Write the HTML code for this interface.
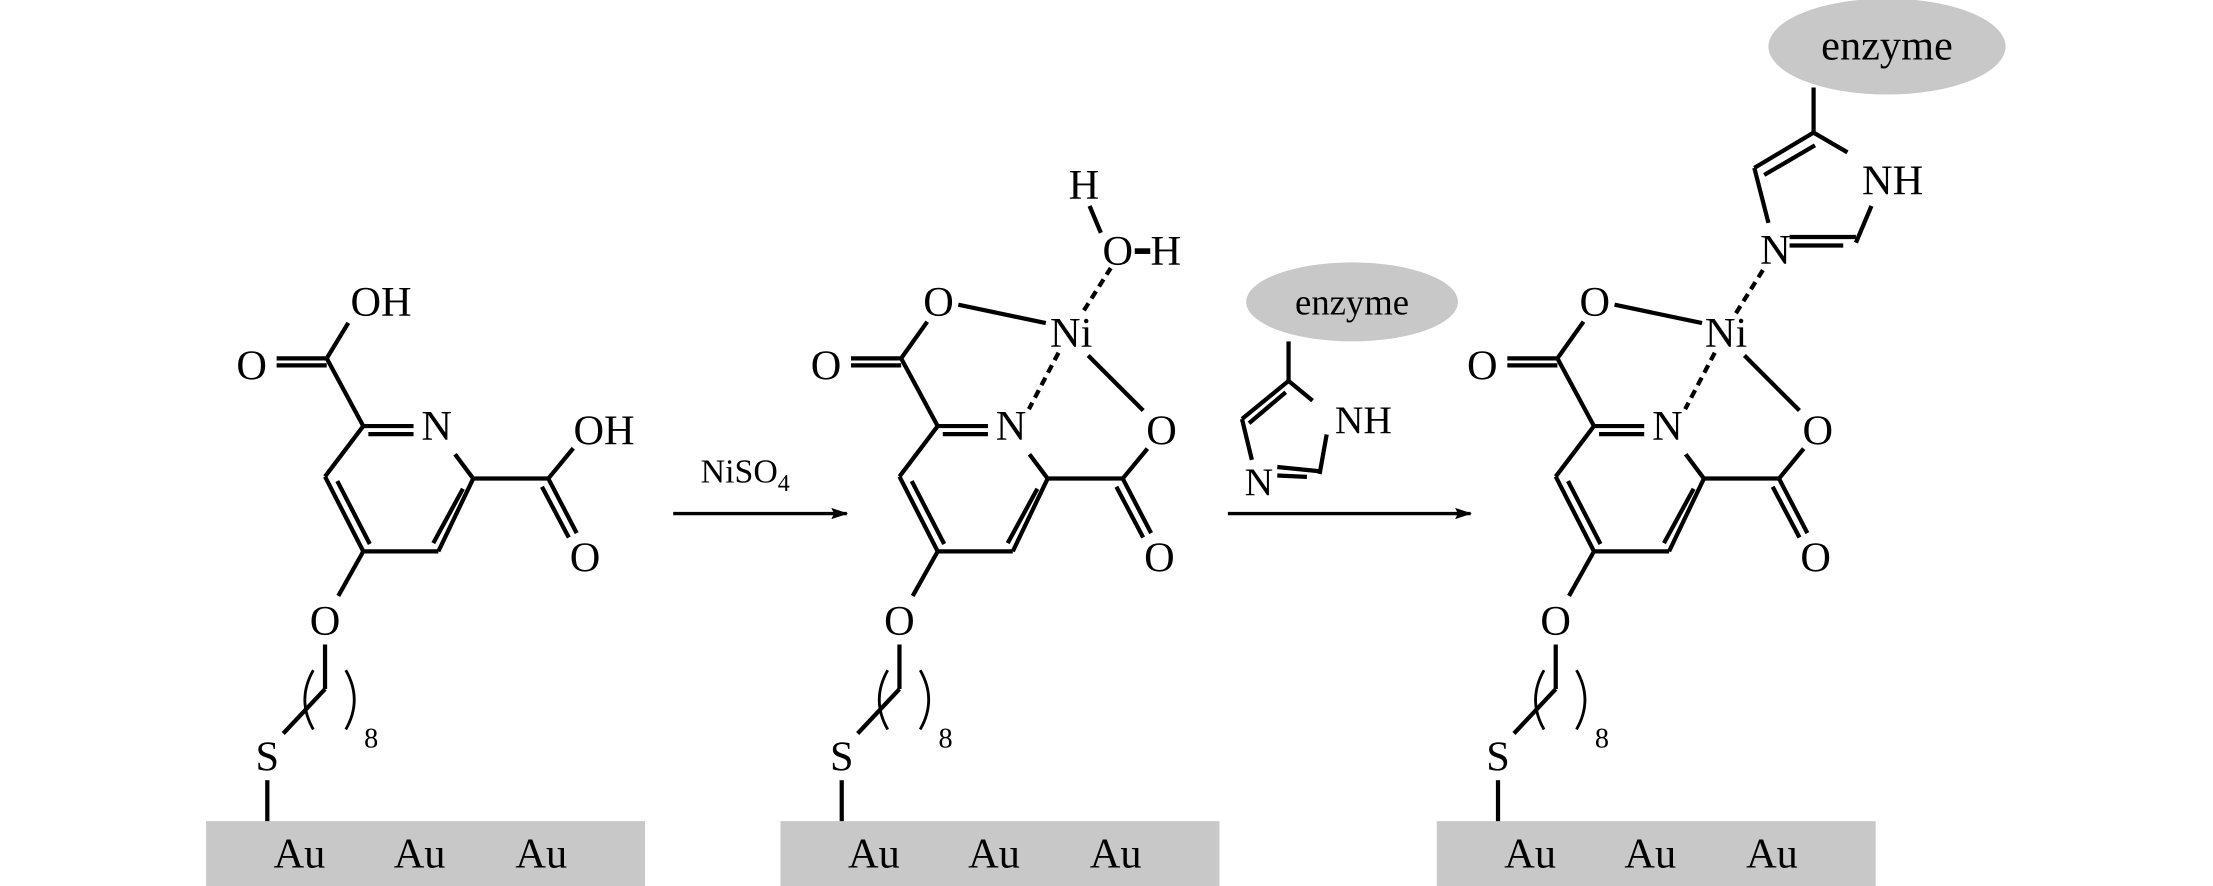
<!DOCTYPE html>
<html><head><meta charset="utf-8"><style>
html,body{margin:0;padding:0;background:#fff;}
svg{display:block;}
text{font-family:"Liberation Serif",serif;fill:#000;}
</style></head><body>
<svg width="2213" height="886" viewBox="0 0 1568 628" preserveAspectRatio="none" xmlns="http://www.w3.org/2000/svg">
<defs>
<marker id="ah" markerWidth="12" markerHeight="8" refX="11" refY="4" orient="auto" markerUnits="userSpaceOnUse"><path d="M0,0 L12,4 L0,8 L2,4z" fill="#000"/></marker>
</defs>
<g stroke="#000" stroke-width="2.4" fill="none" stroke-linecap="butt">
<line x1="477" y1="364" x2="600" y2="364" marker-end="url(#ah)"/>
<line x1="870" y1="364" x2="1042" y2="364" marker-end="url(#ah)"/>
</g>
<text x="528" y="342" font-size="24" text-anchor="middle">NiSO<tspan font-size="17" dy="6">4</tspan></text>

<g id="m1">
<rect x="146" y="582" width="311" height="46" fill="#c8c8c8"/>
<g stroke="#000" stroke-width="3" fill="none">
<line x1="231.5" y1="254" x2="196" y2="254"/>
<line x1="231.5" y1="259" x2="196" y2="259"/>
<line x1="231.5" y1="254" x2="257.4" y2="302"/>
<line x1="257.4" y1="302" x2="293" y2="302"/>
<line x1="261" y1="307.7" x2="293" y2="307.7"/>
<line x1="322.4" y1="322" x2="335.3" y2="339.2"/>
<line x1="335.3" y1="339.2" x2="310.6" y2="390.8"/>
<line x1="328" y1="346.4" x2="307" y2="385"/>
<line x1="310.6" y1="390.8" x2="257.4" y2="390.8"/>
<line x1="257.4" y1="390.8" x2="230.3" y2="337.8"/>
<line x1="239" y1="341" x2="262" y2="385.6"/>
<line x1="230.3" y1="337.8" x2="257.4" y2="302"/>
<line x1="335.3" y1="339.2" x2="388.5" y2="339.2"/>
<line x1="388.5" y1="339.2" x2="408.6" y2="377.9"/>
<line x1="384" y1="345" x2="403" y2="381"/>
<line x1="257.4" y1="390.8" x2="239.7" y2="422.4"/>
<line x1="230.3" y1="456.8" x2="230.3" y2="488.4"/>
<line x1="230.3" y1="488.4" x2="200.7" y2="519.9"/>
<line x1="189.4" y1="553" x2="189.4" y2="582"/>
<path d="M222,475 Q210,496 222,517" stroke-width="2"/>
<path d="M245,475 Q257,496 245,517" stroke-width="2"/>
</g>
<text x="178.3" y="269" font-size="30" text-anchor="middle">O</text>
<text x="309.4" y="312" font-size="30" text-anchor="middle">N</text>
<text x="414.5" y="405" font-size="30" text-anchor="middle">O</text>
<text x="230.3" y="450" font-size="30" text-anchor="middle">O</text>
<text x="263" y="530" font-size="20" text-anchor="middle">8</text>
<text x="189.4" y="546" font-size="30" text-anchor="middle">S</text>
<text x="212.2" y="615" font-size="30" text-anchor="middle">Au</text>
<text x="297.3" y="615" font-size="30" text-anchor="middle">Au</text>
<text x="383.5" y="615" font-size="30" text-anchor="middle">Au</text>
</g>

<g stroke="#000" stroke-width="3">
<line x1="231.5" y1="254" x2="246.8" y2="228.8"/>
<line x1="388.5" y1="339.2" x2="406.2" y2="317.7"/>
</g>
<text x="270" y="224" font-size="30" text-anchor="middle">OH</text>
<text x="428" y="315" font-size="30" text-anchor="middle">OH</text>

<g transform="translate(407,0)">
<rect x="146" y="582" width="311" height="46" fill="#c8c8c8"/>
<g stroke="#000" stroke-width="3" fill="none">
<line x1="231.5" y1="254" x2="196" y2="254"/>
<line x1="231.5" y1="259" x2="196" y2="259"/>
<line x1="231.5" y1="254" x2="257.4" y2="302"/>
<line x1="257.4" y1="302" x2="293" y2="302"/>
<line x1="261" y1="307.7" x2="293" y2="307.7"/>
<line x1="322.4" y1="322" x2="335.3" y2="339.2"/>
<line x1="335.3" y1="339.2" x2="310.6" y2="390.8"/>
<line x1="328" y1="346.4" x2="307" y2="385"/>
<line x1="310.6" y1="390.8" x2="257.4" y2="390.8"/>
<line x1="257.4" y1="390.8" x2="230.3" y2="337.8"/>
<line x1="239" y1="341" x2="262" y2="385.6"/>
<line x1="230.3" y1="337.8" x2="257.4" y2="302"/>
<line x1="335.3" y1="339.2" x2="388.5" y2="339.2"/>
<line x1="388.5" y1="339.2" x2="408.6" y2="377.9"/>
<line x1="384" y1="345" x2="403" y2="381"/>
<line x1="257.4" y1="390.8" x2="239.7" y2="422.4"/>
<line x1="230.3" y1="456.8" x2="230.3" y2="488.4"/>
<line x1="230.3" y1="488.4" x2="200.7" y2="519.9"/>
<line x1="189.4" y1="553" x2="189.4" y2="582"/>
<path d="M222,475 Q210,496 222,517" stroke-width="2"/>
<path d="M245,475 Q257,496 245,517" stroke-width="2"/>
<line x1="231.5" y1="254" x2="250" y2="228"/>
<line x1="388.5" y1="339.2" x2="406" y2="318"/>
<line x1="272" y1="216" x2="334" y2="229"/>
<line x1="343" y1="250" x2="322" y2="290" stroke-dasharray="6,4"/>
<line x1="364" y1="252" x2="403" y2="291"/>
<line x1="361" y1="220" x2="380" y2="190" stroke-dasharray="6,4"/>
<line x1="365" y1="146" x2="373" y2="165"/>
<line x1="397" y1="178" x2="408" y2="178" stroke-width="4"/>
</g>
<text x="258" y="224" font-size="30" text-anchor="middle">O</text>
<text x="416" y="315" font-size="30" text-anchor="middle">O</text>
<text x="352" y="246" font-size="30" text-anchor="middle">Ni</text>
<text x="361" y="141" font-size="30" text-anchor="middle">H</text>
<text x="385" y="188" font-size="30" text-anchor="middle">O</text>
<text x="419" y="188" font-size="30" text-anchor="middle">H</text>
<text x="178.3" y="269" font-size="30" text-anchor="middle">O</text>
<text x="309.4" y="312" font-size="30" text-anchor="middle">N</text>
<text x="414.5" y="405" font-size="30" text-anchor="middle">O</text>
<text x="230.3" y="450" font-size="30" text-anchor="middle">O</text>
<text x="263" y="530" font-size="20" text-anchor="middle">8</text>
<text x="189.4" y="546" font-size="30" text-anchor="middle">S</text>
<text x="212.2" y="615" font-size="30" text-anchor="middle">Au</text>
<text x="297.3" y="615" font-size="30" text-anchor="middle">Au</text>
<text x="383.5" y="615" font-size="30" text-anchor="middle">Au</text>
</g>

<ellipse cx="958" cy="214" rx="75" ry="28" fill="#c8c8c8"/>
<text x="958" y="223" font-size="26" text-anchor="middle">enzyme</text>
<g stroke="#000" stroke-width="3" fill="none">
<line x1="913" y1="242" x2="913" y2="270"/>
<line x1="913" y1="270" x2="880" y2="297"/>
<line x1="911" y1="278" x2="885" y2="300"/>
<line x1="913" y1="270" x2="930" y2="284"/>
<line x1="880" y1="297" x2="887" y2="326"/>
<line x1="940" y1="308" x2="935" y2="336"/>
<line x1="905" y1="331" x2="935" y2="334"/>
<line x1="905" y1="337" x2="926" y2="338"/>
</g>
<text x="966" y="307" font-size="28" text-anchor="middle">NH</text>
<text x="892" y="351" font-size="28" text-anchor="middle">N</text>

<g transform="translate(872,0)">
<rect x="146" y="582" width="311" height="46" fill="#c8c8c8"/>
<g stroke="#000" stroke-width="3" fill="none">
<line x1="231.5" y1="254" x2="196" y2="254"/>
<line x1="231.5" y1="259" x2="196" y2="259"/>
<line x1="231.5" y1="254" x2="257.4" y2="302"/>
<line x1="257.4" y1="302" x2="293" y2="302"/>
<line x1="261" y1="307.7" x2="293" y2="307.7"/>
<line x1="322.4" y1="322" x2="335.3" y2="339.2"/>
<line x1="335.3" y1="339.2" x2="310.6" y2="390.8"/>
<line x1="328" y1="346.4" x2="307" y2="385"/>
<line x1="310.6" y1="390.8" x2="257.4" y2="390.8"/>
<line x1="257.4" y1="390.8" x2="230.3" y2="337.8"/>
<line x1="239" y1="341" x2="262" y2="385.6"/>
<line x1="230.3" y1="337.8" x2="257.4" y2="302"/>
<line x1="335.3" y1="339.2" x2="388.5" y2="339.2"/>
<line x1="388.5" y1="339.2" x2="408.6" y2="377.9"/>
<line x1="384" y1="345" x2="403" y2="381"/>
<line x1="257.4" y1="390.8" x2="239.7" y2="422.4"/>
<line x1="230.3" y1="456.8" x2="230.3" y2="488.4"/>
<line x1="230.3" y1="488.4" x2="200.7" y2="519.9"/>
<line x1="189.4" y1="553" x2="189.4" y2="582"/>
<path d="M222,475 Q210,496 222,517" stroke-width="2"/>
<path d="M245,475 Q257,496 245,517" stroke-width="2"/>
<line x1="231.5" y1="254" x2="250" y2="228"/>
<line x1="388.5" y1="339.2" x2="406" y2="318"/>
<line x1="272" y1="216" x2="334" y2="229"/>
<line x1="343" y1="250" x2="322" y2="290" stroke-dasharray="6,4"/>
<line x1="364" y1="252" x2="403" y2="291"/>
<line x1="358" y1="222" x2="378" y2="190" stroke-dasharray="6,4"/>
</g>
<text x="258" y="224" font-size="30" text-anchor="middle">O</text>
<text x="416" y="315" font-size="30" text-anchor="middle">O</text>
<text x="351" y="246" font-size="30" text-anchor="middle">Ni</text>
<text x="178.3" y="269" font-size="30" text-anchor="middle">O</text>
<text x="309.4" y="312" font-size="30" text-anchor="middle">N</text>
<text x="414.5" y="405" font-size="30" text-anchor="middle">O</text>
<text x="230.3" y="450" font-size="30" text-anchor="middle">O</text>
<text x="263" y="530" font-size="20" text-anchor="middle">8</text>
<text x="189.4" y="546" font-size="30" text-anchor="middle">S</text>
<text x="212.2" y="615" font-size="30" text-anchor="middle">Au</text>
<text x="297.3" y="615" font-size="30" text-anchor="middle">Au</text>
<text x="383.5" y="615" font-size="30" text-anchor="middle">Au</text>
</g>

<ellipse cx="1337" cy="33" rx="84" ry="34" fill="#c8c8c8"/>
<text x="1337" y="42" font-size="30" text-anchor="middle">enzyme</text>
<g stroke="#000" stroke-width="3" fill="none">
<line x1="1285" y1="62" x2="1285" y2="94"/>
<line x1="1285" y1="94" x2="1243" y2="119"/>
<line x1="1286" y1="103" x2="1250" y2="124"/>
<line x1="1285" y1="94" x2="1309" y2="108"/>
<line x1="1243" y1="119" x2="1253" y2="158"/>
<line x1="1326" y1="146" x2="1315" y2="172"/>
<line x1="1268" y1="168" x2="1315" y2="168"/>
<line x1="1268" y1="174" x2="1306" y2="174"/>
</g>
<text x="1341" y="138" font-size="30" text-anchor="middle">NH</text>
<text x="1258" y="187" font-size="30" text-anchor="middle">N</text>
</svg>
</body></html>
